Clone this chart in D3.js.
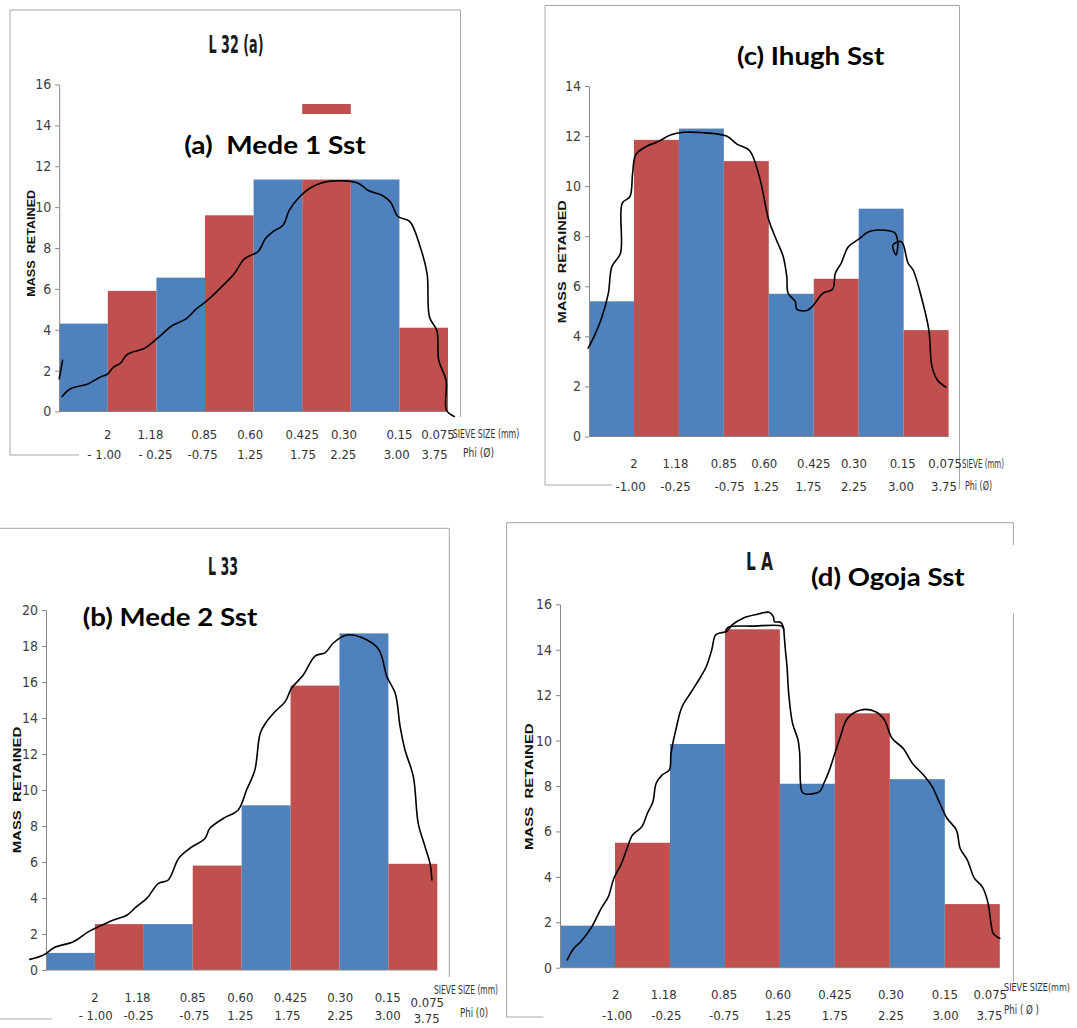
<!DOCTYPE html>
<html>
<head>
<meta charset="utf-8">
<script src="https://cdn.jsdelivr.net/npm/d3@7"></script>
<style>
body { margin: 0; background: #fff; }
svg { display: block; }
text { white-space: pre; }
</style>
</head>
<body>
<svg width="1077" height="1028"></svg>
<script>
// sieve sizes (mm) and phi values under each bar boundary
var sieveSizes = ["2", "1.18", "0.85", "0.60", "0.425", "0.30", "0.15", "0.075"];
var phiA = ["- 1.00", "- 0.25", "-0.75", "1.25", "1.75", "2.25", "3.00", "3.75"];
var phiB = ["- 1.00", "-0.25", "-0.75", "1.25", "1.75", "2.25", "3.00", "3.75"];
var phiC = ["-1.00", "-0.25", "-0.75", "1.25", "1.75", "2.25", "3.00", "3.75"];
var phiD = ["-1.00", "-0.25", "-0.75", "1.25", "1.75", "2.25", "3.00", "3.75"];

// mass retained per sieve class
var massA = [4.3, 5.9, 6.55, 9.6, 11.35, 11.35, 11.35, 4.1];
var massB = [0.95, 2.55, 2.55, 5.8, 9.15, 15.8, 18.7, 5.9];
var massC = [5.4, 11.85, 12.3, 11.0, 5.7, 6.3, 9.1, 4.25];
var massD = [1.85, 5.5, 9.85, 14.9, 8.1, 11.2, 8.3, 2.8];

// hand drawn envelopes: [position in bar widths, mass]
var curveA = [[0.06,0.73],[0.23,1.11],[0.59,1.35],[0.84,1.68],[0.98,1.81],[1.12,2.17],[1.26,2.36],[1.40,2.79],
  [1.76,3.10],[2.01,3.56],[2.33,4.21],[2.61,4.53],[2.82,5.02],[3.03,5.40],[3.32,6.05],[3.60,6.74],[3.81,7.47],
  [4.10,7.84],[4.24,8.45],[4.38,8.77],[4.61,9.13],[4.73,9.83],[4.91,10.41],[5.19,10.97],[5.58,11.27],[6.15,11.17],
  [6.36,10.81],[6.65,10.57],[6.82,10.24],[6.97,9.54],[7.21,9.30],[7.43,8.04],[7.57,6.74],[7.62,4.61],[7.77,3.96],
  [7.81,2.50],[7.96,1.52],[7.97,0.05],[8.13,-0.24]];
var strokeA = [[0.0,1.6],[0.07,2.5]];
var curveB = [[-0.33,0.59],[-0.05,0.83],[0.18,1.26],[0.56,1.57],[0.87,2.13],[1.10,2.44],[1.38,2.78],[1.65,3.04],
  [1.85,3.52],[2.06,3.98],[2.30,4.81],[2.50,5.00],[2.71,6.20],[2.94,6.76],[3.25,7.31],[3.35,7.87],[3.63,8.43],
  [3.93,8.89],[4.10,10.00],[4.27,11.11],[4.38,13.15],[4.51,13.80],[4.68,14.35],[4.89,14.91],[5.02,15.65],
  [5.26,16.39],[5.50,17.44],[5.71,17.63],[5.88,18.18],[6.15,18.61],[6.49,18.43],[6.80,17.82],[6.97,16.30],
  [7.14,15.37],[7.24,13.52],[7.34,12.22],[7.51,10.74],[7.61,8.15],[7.75,6.85],[7.85,5.93],[7.89,5.00]];
var curveC = [[-0.02,3.53],[0.13,4.06],[0.28,4.73],[0.43,5.72],[0.51,6.79],[0.70,7.32],[0.74,9.32],[0.91,9.58],
  [0.97,10.51],[1.04,11.25],[1.27,11.58],[1.54,11.78],[1.81,12.04],[2.11,12.15],[2.49,12.14],[3.06,12.00],
  [3.29,11.68],[3.57,11.42],[3.79,10.38],[4.00,8.65],[4.17,7.85],[4.32,7.19],[4.40,6.39],[4.43,5.72],[4.59,5.39],
  [4.62,5.09],[4.85,5.03],[5.00,5.26],[5.20,5.72],[5.42,5.88],[5.48,6.52],[5.61,6.92],[5.77,7.58],[6.00,7.88],
  [6.22,8.18],[6.45,8.25],[6.80,8.14],[6.87,7.72],[6.83,7.25],[6.76,7.65],[6.95,7.78],[7.10,6.92],[7.21,6.65],
  [7.41,5.46],[7.56,4.26],[7.63,2.79],[7.75,2.26],[7.94,1.97]];
var curveD = [[0.13,0.34],[0.25,0.85],[0.38,1.15],[0.58,1.81],[0.75,2.61],[0.88,3.13],[0.98,3.94],[1.12,4.60],
  [1.22,5.26],[1.32,5.84],[1.49,6.21],[1.59,6.80],[1.69,7.31],[1.75,8.12],[1.86,8.49],[1.99,8.71],[2.02,9.44],
  [2.12,10.61],[2.22,11.49],[2.39,12.15],[2.56,12.81],[2.66,13.25],[2.76,13.99],[2.83,14.65],[2.93,14.75],
  [3.03,14.80],[3.13,15.09],[3.33,15.39],[3.59,15.56],[3.80,15.65],[3.88,15.46],[3.90,15.24],[4.01,15.21],
  [4.06,15.02],[4.08,14.58],[4.10,13.99],[4.13,13.25],[4.16,12.08],[4.23,10.76],[4.33,10.03],[4.36,9.44],
  [4.40,7.75],[4.46,7.65],[4.72,7.75],[4.80,8.12],[4.90,8.70],[5.00,9.44],[5.10,10.17],[5.23,10.98],[5.47,11.35],
  [5.74,11.27],[5.90,10.91],[6.04,10.10],[6.24,9.66],[6.41,9.00],[6.64,8.41],[6.77,7.97],[6.91,7.24],[7.04,6.58],
  [7.21,6.06],[7.28,5.25],[7.41,4.74],[7.54,3.93],[7.68,3.57],[7.78,2.91],[7.84,1.95],[7.88,1.51],[8.00,1.29]];
var strokeD = [[3.01,14.79],[3.06,14.99],[3.5,15.04],[4.03,15.04],[4.07,14.9]];

var blue = "#4f81bd", red = "#c0504d";
var narrow = "'Liberation Sans Narrow','Arial Narrow','DejaVu Sans Condensed',sans-serif";

var panels = [
  {mass: massA, curves: [curveA, strokeA], phi: phiA, yMax: 16,
   left: 59.2, right: 448, y0: 411.5, yTop: 84.5,
   frame: [[10,10,10,455],[10,10,460.5,10],[460.5,10,460.5,417],[10,455,79,455]],
   title: {text: "L 32 (a)", x: 236, y: 53, w: 55},
   name: {text: "(a)  Mede 1 Sst", x: 184.2, y: 154, w: 181.5},
   yLabel: {x: 31, y: 243.3, w: 107},
   rows: [439, 458.5], lastDy: 0,
   shift1: [0,-6,-0.7,-3.4,0,-6.8,0,-10], shift2: [-3.5,-1,-2.4,-3.4,0.7,-7.5,-2.7,-13.4],
   sieve: {text: "SIEVE SIZE (mm)", x: 452.8, y: 438, w: 66.5},
   phiT: {text: "Phi (Ø)", x: 463, y: 456.5, w: 31},
   legend: true},
  {mass: massC, curves: [curveC], phi: phiC, yMax: 14,
   left: 589, right: 948.6, y0: 436.5, yTop: 86,
   frame: [[545,5.5,545,485],[545,5.5,959.5,5.5],[959.5,5.5,959.5,489],[545,485,612,485]],
   title: null,
   name: {text: "(c) Ihugh Sst", x: 736.9, y: 65, w: 147.3},
   yLabel: {x: 562.3, y: 261.7, w: 123},
   rows: [468, 490.5], lastDy: 0,
   shift1: [0,-3.4,0,-4.5,0,-4.8,-1,-3.5], shift2: [-3.4,-3.4,5.8,-2.8,-5.2,-4.8,-2.7,-4.6],
   sieve: {text: "SIEVE (mm)", x: 962, y: 468, w: 42},
   phiT: {text: "Phi (Ø)", x: 965, y: 489.5, w: 27}},
  {mass: massB, curves: [curveB], phi: phiB, yMax: 20,
   left: 46, right: 437.3, y0: 970, yTop: 610,
   frame: [[0,528.3,449.3,528.3],[449.3,528.3,449.3,977],[0,1019,52,1019]],
   title: {text: "L 33", x: 223, y: 575, w: 30},
   name: {text: "(b) Mede 2 Sst", x: 82.7, y: 626, w: 174.6},
   yLabel: {x: 17.3, y: 790, w: 126.7},
   rows: [1001.5, 1020], lastDy: 5,
   shift1: [0,-6.3,0,-1.3,0,0.7,-0.7,-10], shift2: [0.7,-5.3,1.7,-1.3,-3,0.7,-0.7,-10.6],
   sieve: {text: "SIEVE SIZE (mm)", x: 434, y: 994, w: 64},
   phiT: {text: "Phi (0)", x: 460, y: 1017, w: 28}},
  {mass: massD, curves: [curveD, strokeD], phi: phiD, yMax: 16,
   left: 560, right: 999.8, y0: 967.7, yTop: 604.3,
   frame: [[506.6,522.7,506.6,1017],[506.6,522.7,1013.4,522.7],[1013.4,522.7,1013.4,545],[1013.4,613,1013.4,981.7],[506.6,1017,543.4,1017]],
   title: {text: "L A", x: 759.5, y: 570, w: 27.2},
   name: {text: "(d) Ogoja Sst", x: 811, y: 585.7, w: 153.5},
   yLabel: {x: 529.4, y: 786.7, w: 126.7},
   rows: [998.5, 1020], lastDy: 0,
   shift1: [0.7,-6.2,-0.8,-1.8,0,1.1,0,-9.5], shift2: [2.2,-3.6,-0.8,-1.8,0,1.1,0.8,-10.3],
   sieve: {text: "SIEVE SIZE(mm)", x: 1004, y: 990.5, w: 66, fs: 10},
   phiT: {text: "Phi ( Ø )", x: 1004, y: 1014, w: 35}}
];

var svg = d3.select("svg");
svg.append("rect").attr("width", 1077).attr("height", 1028).attr("fill", "#fff");

panels.forEach(function(p) {
  var g = svg.append("g");

  // cropped chart border
  g.selectAll("line.frame").data(p.frame).enter().append("line")
    .attr("x1", function(d) { return d[0]; }).attr("y1", function(d) { return d[1]; })
    .attr("x2", function(d) { return d[2]; }).attr("y2", function(d) { return d[3]; })
    .attr("stroke", "#a6a6a6").attr("stroke-width", 1);

  var x = d3.scaleLinear().domain([0, p.mass.length]).range([p.left, p.right]);
  var y = d3.scaleLinear().domain([0, p.yMax]).range([p.y0, p.yTop]);

  g.selectAll("rect.bar").data(p.mass).enter().append("rect")
    .attr("x", function(d, i) { return x(i); })
    .attr("width", x(1) - x(0))
    .attr("y", function(d) { return y(d); })
    .attr("height", function(d) { return y(0) - y(d); })
    .attr("fill", function(d, i) { return i % 2 ? red : blue; });

  if (p.legend) {
    g.append("rect").attr("x", x(5)).attr("width", x(6) - x(5))
      .attr("y", 104).attr("height", 10).attr("fill", red);
  }

  g.append("line").attr("x1", x(0)).attr("x2", x(p.mass.length))
    .attr("y1", y(0)).attr("y2", y(0)).attr("stroke", "#868686");

  var yAxis = g.append("g").attr("transform", "translate(" + p.left + ",0)")
    .call(d3.axisLeft(y).tickValues(d3.range(0, p.yMax + 1, 2)).tickSize(4).tickSizeOuter(0).tickPadding(4));
  yAxis.select(".domain").attr("stroke", "#868686");
  yAxis.selectAll(".tick line").attr("stroke", "#868686");
  yAxis.selectAll(".tick text").attr("fill", "#404040")
    .style("font-family", narrow).style("font-size", "14px");

  var line = d3.line()
    .x(function(d) { return x(d[0]); })
    .y(function(d) { return y(d[1]); })
    .curve(d3.curveCatmullRom.alpha(0.5));
  p.curves.forEach(function(c) {
    g.append("path").attr("d", line(c)).attr("fill", "none")
      .attr("stroke", "#000").attr("stroke-width", 1.6)
      .attr("stroke-linejoin", "round").attr("stroke-linecap", "round");
  });

  // sieve size and phi rows
  var last = sieveSizes.length - 1;
  g.selectAll("text.sieve").data(sieveSizes).enter().append("text")
    .attr("x", function(d, i) { return x(i + 1) + p.shift1[i]; })
    .attr("y", function(d, i) { return p.rows[0] + (i === last ? p.lastDy : 0); })
    .attr("text-anchor", "middle").attr("fill", "#333")
    .style("font-family", narrow).style("font-size", "13px")
    .text(function(d) { return d; });
  g.selectAll("text.phi").data(p.phi).enter().append("text")
    .attr("x", function(d, i) { return x(i + 1) + p.shift2[i]; })
    .attr("y", function(d, i) { return p.rows[1] + (i === last ? p.lastDy / 2 : 0); })
    .attr("text-anchor", "middle").attr("fill", "#333")
    .style("font-family", narrow).style("font-size", "13px")
    .text(function(d) { return d; });

  [p.sieve, p.phiT].forEach(function(t) {
    g.append("text").attr("x", t.x).attr("y", t.y)
      .attr("textLength", t.w).attr("lengthAdjust", "spacingAndGlyphs")
      .attr("fill", "#333").style("font-family", narrow).style("font-size", (t.fs || 13) + "px")
      .text(t.text);
  });

  g.append("text")
    .attr("transform", "translate(" + p.yLabel.x + "," + p.yLabel.y + ") rotate(-90)")
    .attr("dy", "0.35em").attr("text-anchor", "middle")
    .attr("textLength", p.yLabel.w).attr("lengthAdjust", "spacingAndGlyphs")
    .style("font-family", "'Liberation Sans',Arial,sans-serif").style("font-size", "11px")
    .style("font-weight", "bold").attr("fill", "#111")
    .text("MASS  RETAINED");

  if (p.title) {
    g.append("text").attr("x", p.title.x).attr("y", p.title.y)
      .attr("text-anchor", "middle")
      .attr("textLength", p.title.w).attr("lengthAdjust", "spacingAndGlyphs")
      .style("font-family", narrow).style("font-size", "25px").style("font-weight", "bold")
      .attr("fill", "#1a1a1a")
      .text(p.title.text);
  }

  g.append("text").attr("x", p.name.x).attr("y", p.name.y)
    .attr("textLength", p.name.w).attr("lengthAdjust", "spacingAndGlyphs")
    .style("font-family", "Lato,'Open Sans',sans-serif").style("font-size", "25px")
    .style("font-weight", "bold").attr("fill", "#000")
    .text(p.name.text);
});
</script>
</body>
</html>
